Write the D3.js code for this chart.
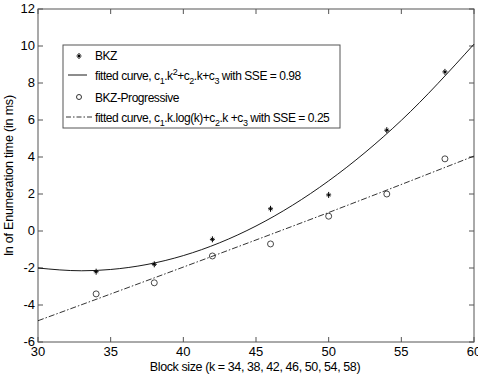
<!DOCTYPE html>
<html>
<head>
<meta charset="utf-8">
<script src="https://cdn.jsdelivr.net/npm/d3@7"></script>
<style>
  body { margin: 0; background: #fff; }
  text { font-family: "Liberation Sans", Arial, sans-serif; fill: #000; }
</style>
</head>
<body>
<script>
// block sizes and measured values
const blockSizes = [34, 38, 42, 46, 50, 54, 58];
const bkzValues = [-2.2, -1.8, -0.45, 1.2, 1.95, 5.45, 8.6];
const progValues = [-3.4, -2.8, -1.35, -0.7, 0.8, 2.0, 3.9];

// fitted curves
const fitK = [30, 33, 35, 40, 45, 50, 55, 60];
const fitBkz = [-2.0, -2.15, -2.08, -1.33, 0.27, 2.71, 5.98, 10.1];
const fitProgK = [30, 40, 50, 60];
const fitProg = [-4.85, -1.95, 1.0, 4.05];

const xTicks = [30, 35, 40, 45, 50, 55, 60];
const yTicks = [-6, -4, -2, 0, 2, 4, 6, 8, 10, 12];

const width = 478, height = 378;
const margin = { top: 9, right: 4, bottom: 36, left: 38 };

const svg = d3.select('body').append('svg')
    .attr('width', width)
    .attr('height', height);

const x = d3.scaleLinear().domain([30, 60]).range([margin.left, width - margin.right]);
const y = d3.scaleLinear().domain([-6, 12]).range([height - margin.bottom, margin.top]);

const axisColor = '#555';

// frame
svg.append('rect')
    .attr('x', x(30)).attr('y', y(12))
    .attr('width', x(60) - x(30)).attr('height', y(-6) - y(12))
    .attr('fill', 'none').attr('stroke', axisColor);

// ticks inside on all sides
const tickLen = 5;
xTicks.forEach(t => {
    svg.append('line').attr('x1', x(t)).attr('x2', x(t))
        .attr('y1', y(-6)).attr('y2', y(-6) - tickLen).attr('stroke', axisColor);
    svg.append('line').attr('x1', x(t)).attr('x2', x(t))
        .attr('y1', y(12)).attr('y2', y(12) + tickLen).attr('stroke', axisColor);
    svg.append('text').attr('x', x(t)).attr('y', y(-6) + 14)
        .attr('text-anchor', 'middle').attr('font-size', 13).text(t);
});
yTicks.forEach(t => {
    svg.append('line').attr('x1', x(30)).attr('x2', x(30) + tickLen)
        .attr('y1', y(t)).attr('y2', y(t)).attr('stroke', axisColor);
    svg.append('line').attr('x1', x(60)).attr('x2', x(60) - tickLen)
        .attr('y1', y(t)).attr('y2', y(t)).attr('stroke', axisColor);
    svg.append('text').attr('x', x(30) - 3).attr('y', y(t) + 4)
        .attr('text-anchor', 'end').attr('font-size', 13).text(t);
});

// axis labels
svg.append('text')
    .attr('x', 255).attr('y', 371)
    .attr('text-anchor', 'middle').attr('font-size', 12.5)
    .attr('letter-spacing', -0.4)
    .text('Block size (k = 34, 38, 42, 46, 50, 54, 58)');
svg.append('text')
    .attr('transform', `translate(13, ${(y(-6) + y(12)) / 2}) rotate(-90)`)
    .attr('text-anchor', 'middle').attr('font-size', 12.5)
    .attr('letter-spacing', -0.2)
    .text('ln of Enumeration time (in ms)');

// curves
const line = d3.line().x(d => x(d[0])).y(d => y(d[1])).curve(d3.curveMonotoneX);
svg.append('path')
    .datum(fitK.map((k, i) => [k, fitBkz[i]]))
    .attr('d', line).attr('fill', 'none').attr('stroke', '#000').attr('stroke-width', 0.9);
svg.append('path')
    .datum(fitProgK.map((k, i) => [k, fitProg[i]]))
    .attr('d', line).attr('fill', 'none').attr('stroke', '#000').attr('stroke-width', 0.8)
    .attr('stroke-dasharray', '6,2,1.5,2');

// markers
function star(g, cx, cy) {
    g.append('path')
        .attr('d', `M${cx - 2.5},${cy}H${cx + 2.5}M${cx},${cy - 3}V${cy + 3}M${cx - 1.5},${cy - 1.5}L${cx + 1.5},${cy + 1.5}M${cx - 1.5},${cy + 1.5}L${cx + 1.5},${cy - 1.5}`)
        .attr('stroke', '#000').attr('stroke-width', 1);
}
blockSizes.forEach((k, i) => star(svg, x(k), y(bkzValues[i])));
svg.selectAll('circle.prog').data(blockSizes).enter().append('circle')
    .attr('class', 'prog')
    .attr('cx', k => x(k)).attr('cy', (k, i) => y(progValues[i]))
    .attr('r', 3).attr('fill', 'none').attr('stroke', '#333').attr('stroke-width', 0.9);

// legend
const lg = svg.append('g');
lg.append('rect').attr('x', 63).attr('y', 45).attr('width', 277).attr('height', 83)
    .attr('fill', '#fff').attr('stroke', axisColor);

const rows = [55, 75, 97, 117];
star(lg, 79, rows[0] + 1);
lg.append('line').attr('x1', 68).attr('x2', 87).attr('y1', rows[1]).attr('y2', rows[1])
    .attr('stroke', '#000').attr('stroke-width', 0.9);
lg.append('circle').attr('cx', 79).attr('cy', rows[2]).attr('r', 2.5)
    .attr('fill', 'none').attr('stroke', '#333');
lg.append('line').attr('x1', 66).attr('x2', 92).attr('y1', rows[3]).attr('y2', rows[3])
    .attr('stroke', '#000').attr('stroke-width', 0.8).attr('stroke-dasharray', '5,2,1.5,2');

function legendText(yy, parts) {
    const t = lg.append('text').attr('x', 95).attr('y', yy + 5)
        .attr('font-size', 12).attr('letter-spacing', -0.45);
    parts.forEach(p => {
        const s = t.append('tspan').text(p[0]);
        if (p[1] === 'sub') s.attr('font-size', 9).attr('dy', 4);
        if (p[1] === 'sup') s.attr('font-size', 9).attr('dy', -5);
        if (p[1] === 'back') s.attr('dy', p[2]);
    });
}
legendText(rows[0], [['BKZ']]);
legendText(rows[1], [['fitted curve, c'], ['1', 'sub'], ['.k', 'back', -4], ['2', 'sup'], ['+c', 'back', 5], ['2', 'sub'], ['.k+c', 'back', -4], ['3', 'sub'], [' with SSE = 0.98', 'back', -4]]);
legendText(rows[2], [['BKZ-Progressive']]);
legendText(rows[3], [['fitted curve, c'], ['1', 'sub'], ['.k.log(k)+c', 'back', -4], ['2', 'sub'], ['.k +c', 'back', -4], ['3', 'sub'], [' with SSE = 0.25', 'back', -4]]);
</script>
</body>
</html>
